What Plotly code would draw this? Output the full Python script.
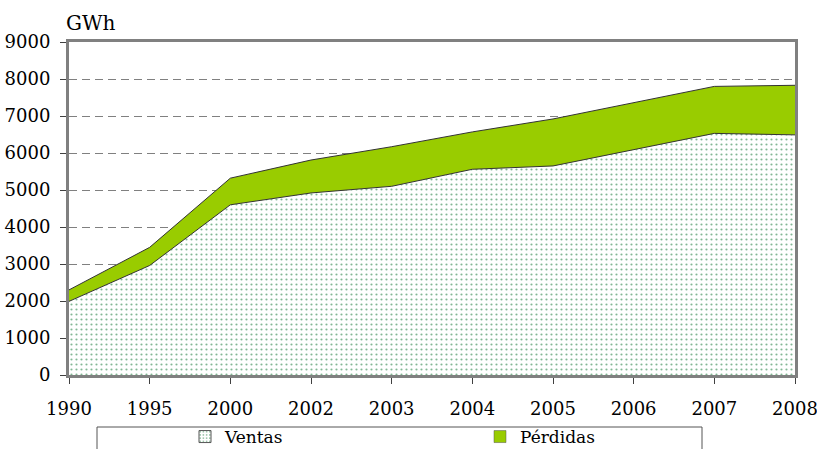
import plotly.graph_objects as go

years = ["1990", "1995", "2000", "2002", "2003", "2004", "2005", "2006", "2007", "2008"]
ventas = [1990, 2960, 4600, 4920, 5100, 5560, 5650, 6100, 6530, 6490]
perdidas = [310, 490, 720, 890, 1070, 1010, 1270, 1250, 1270, 1340]
y_ticks = [0, 1000, 2000, 3000, 4000, 5000, 6000, 7000, 8000, 9000]

W, H = 817, 449
ML, MR, MT, MB = 69, 22, 42, 74
PW, PH = W - ML - MR, H - MT - MB

def px_x(px):
    return (px - ML) / PW

def px_y(py):
    return (H - MB - py) / PH

FONT = "DejaVu Serif"
DOT = "#066f2a"
GREEN = "#99cc00"

fig = go.Figure()
fig.add_trace(go.Scatter(
    x=years, y=ventas, name="Ventas", stackgroup="one", mode="lines",
    line=dict(color="#333333", width=1),
    fillcolor="white",
    fillpattern=dict(shape=".", fgcolor=DOT, bgcolor="white", size=5, solidity=0.15),
    showlegend=False, hoverinfo="skip",
))
fig.add_trace(go.Scatter(
    x=years, y=perdidas, name="Pérdidas", stackgroup="one", mode="lines",
    line=dict(color="#333333", width=1),
    fillcolor=GREEN, showlegend=False, hoverinfo="skip",
))
# legend entries
fig.add_trace(go.Bar(
    x=[None], y=[None], name="Ventas",
    marker=dict(color="white", line=dict(color="#555555", width=1),
                pattern=dict(shape=".", fgcolor=DOT, bgcolor="white", size=4, solidity=0.2)),
))
fig.add_trace(go.Bar(
    x=[None], y=[None], name="Pérdidas",
    marker=dict(color=GREEN, line=dict(color="#555555", width=0.5)),
))

fig.update_layout(
    width=W, height=H,
    margin=dict(l=ML, r=MR, t=MT, b=MB, autoexpand=False),
    paper_bgcolor="white", plot_bgcolor="white",
    font=dict(family=FONT, size=18, color="black"),
    showlegend=True,
    legend=dict(
        orientation="h", x=px_x(185), y=px_y(437), xanchor="left", yanchor="middle",
        entrywidth=250, entrywidthmode="pixels",
        font=dict(family=FONT, size=17, color="black"),
        bgcolor="rgba(0,0,0,0)", borderwidth=0, traceorder="normal",
    ),
    xaxis=dict(
        type="category", categoryorder="array", categoryarray=years,
        range=[0, len(years) - 1],
        showline=True, linecolor="#808080", linewidth=3, mirror=True,
        ticks="outside", ticklen=6, tickcolor="#404040", tickwidth=1,
        ticklabelstandoff=9,
        showgrid=False, zeroline=False,
        tickfont=dict(family=FONT, size=18, color="black"),
    ),
    yaxis=dict(
        range=[0, 9000], tickvals=y_ticks,
        showline=True, linecolor="#808080", linewidth=3, mirror=True,
        ticks="outside", ticklen=6, tickcolor="#404040", tickwidth=1,
        ticklabelstandoff=6,
        showgrid=True, gridcolor="#808080", gridwidth=1, griddash="8px,5px",
        zeroline=False,
        tickfont=dict(family=FONT, size=18, color="black"),
    ),
    shapes=[dict(
        type="rect", xref="paper", yref="paper",
        x0=px_x(97), x1=px_x(702), y0=px_y(427), y1=px_y(455),
        line=dict(color="#555555", width=1), fillcolor="rgba(0,0,0,0)", layer="above",
    )],
    annotations=[dict(
        text="GWh", xref="paper", yref="paper", x=px_x(91), y=px_y(23),
        xanchor="center", yanchor="middle", showarrow=False,
        font=dict(family=FONT, size=20, color="black"),
    )],
)

fig.write_html(
    "out.html",
    config={"displayModeBar": False},
    post_script="document.body.style.margin='0';document.body.style.overflow='hidden';",
)
